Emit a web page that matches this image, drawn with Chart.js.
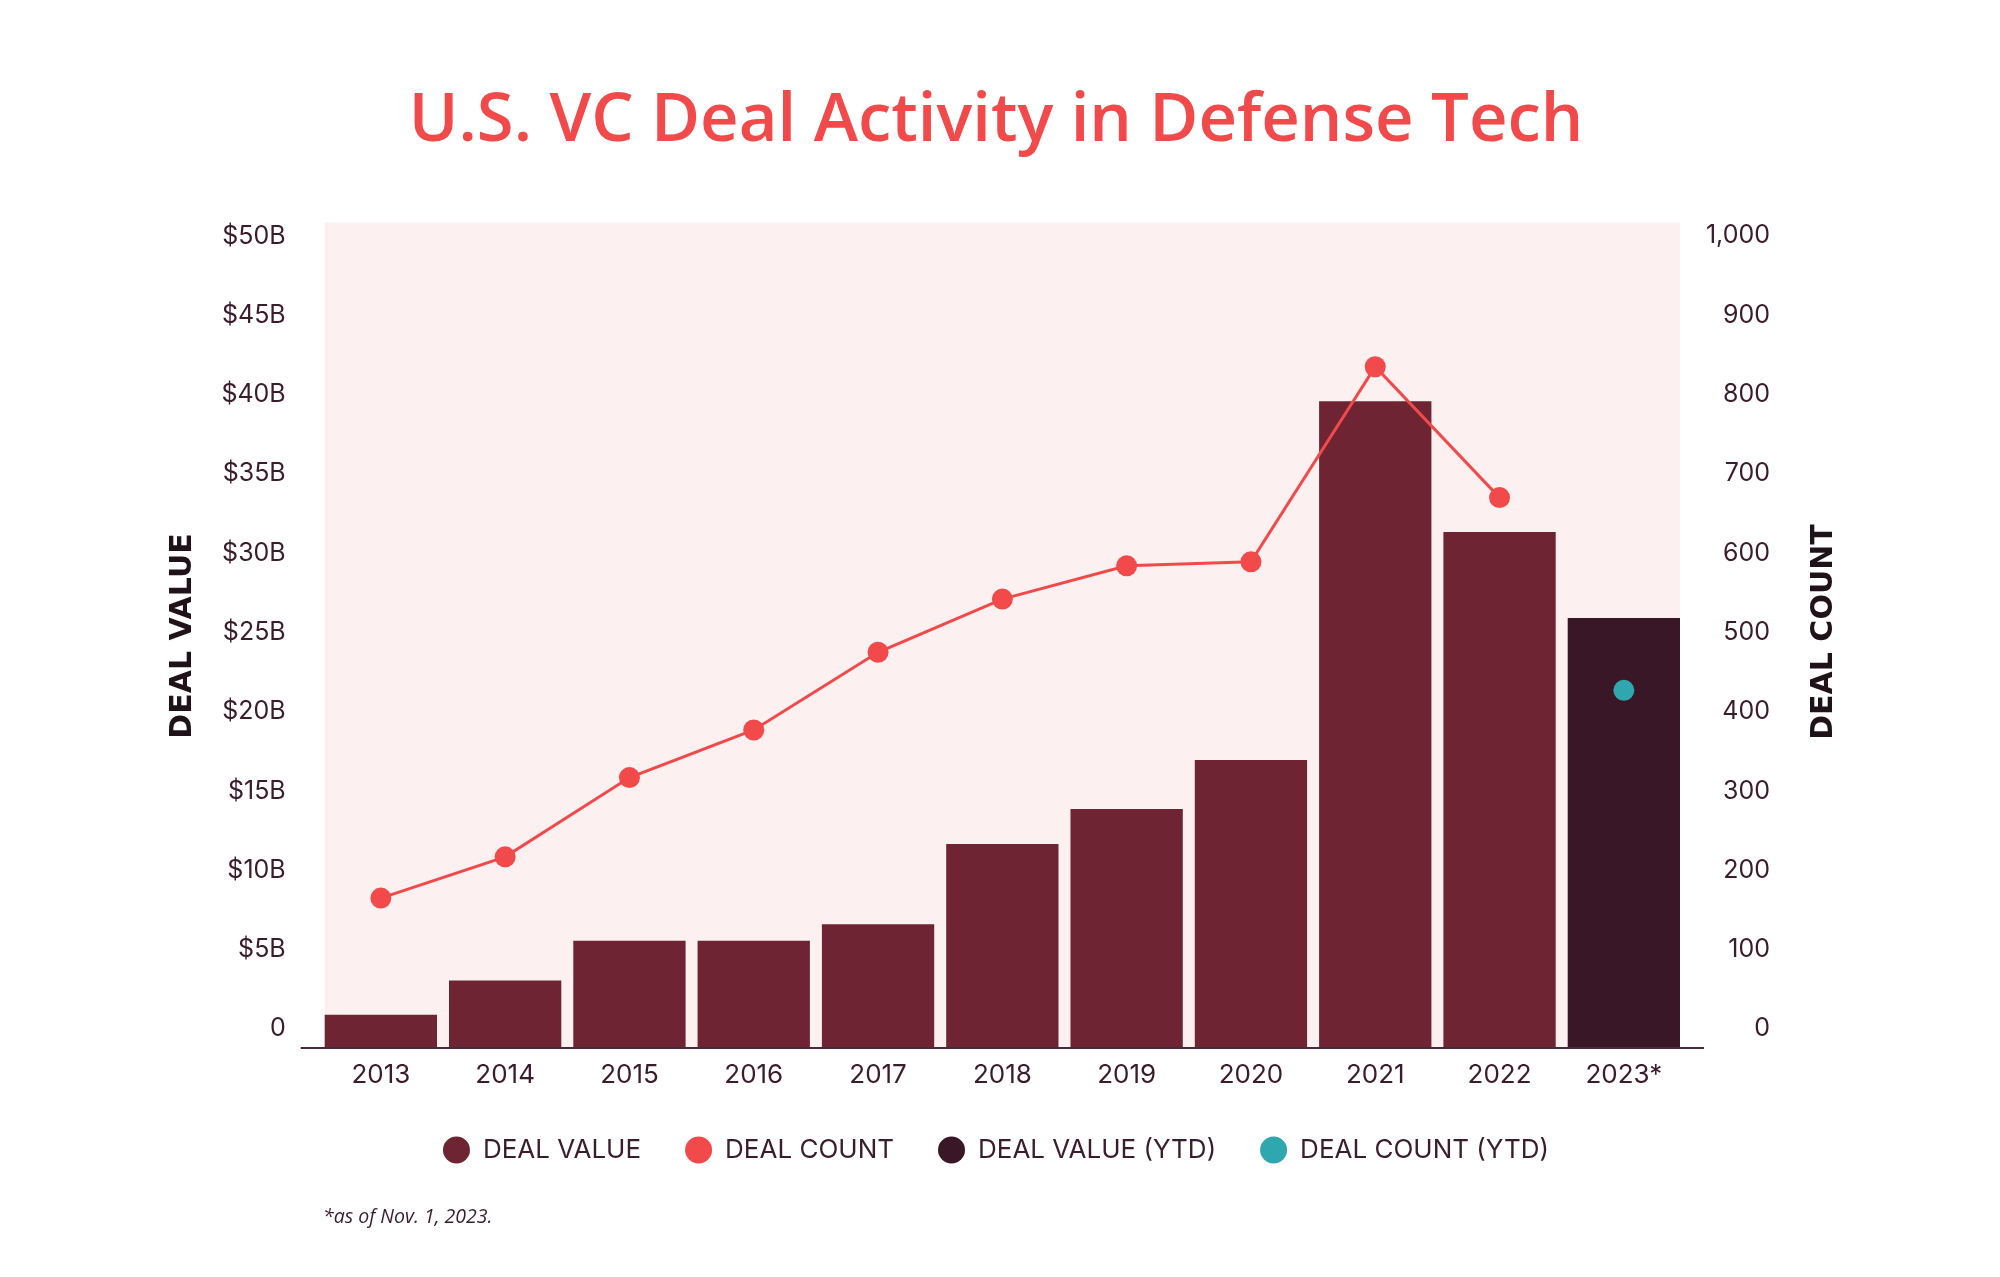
<!DOCTYPE html>
<html>
<head>
<meta charset="utf-8">
<title>U.S. VC Deal Activity in Defense Tech</title>
<script src="https://cdn.jsdelivr.net/npm/chart.js@4.4.1/dist/chart.umd.min.js"></script>
<style>
  html, body { margin: 0; padding: 0; background: #ffffff; }
  #wrap { position: relative; width: 2000px; height: 1277px; }
</style>
</head>
<body>
<div id="wrap"><canvas id="dealChart" width="2000" height="1277"></canvas></div>
<script>
const years = ["2013", "2014", "2015", "2016", "2017", "2018", "2019", "2020", "2021", "2022", "2023*"];
// deal value in $B, deal count in deals
const dealValue = [0.9, 3.05, 5.57, 5.57, 6.6, 11.66, 13.87, 16.96, 39.58, 31.34, null];
const dealCount = [165, 217, 317, 377, 475, 542, 584, 589, 835, 670, null];
const dealValueYtd = [null, null, null, null, null, null, null, null, null, null, 25.91];
const dealCountYtd = [null, null, null, null, null, null, null, null, null, null, 427];

const valueTicks = [0, 5, 10, 15, 20, 25, 30, 35, 40, 45, 50];
const valueTickLabels = ["0", "$5B", "$10B", "$15B", "$20B", "$25B", "$30B", "$35B", "$40B", "$45B", "$50B"];
const countTicks = [0, 100, 200, 300, 400, 500, 600, 700, 800, 900, 1000];
const countTickLabels = ["0", "100", "200", "300", "400", "500", "600", "700", "800", "900", "1,000"];

const valueMin = -1.2;
const valueMax = 50.86;
const countMin = -24;
const countMax = 1017;

const inkColor = "#3b1c2c";
const tickFont = { family: "Inter", size: 25 };

// pink panel behind the bars, spanning exactly the bar columns
const panelPlugin = {
  id: "panel",
  beforeDatasetsDraw(chart) {
    const { ctx, chartArea, scales } = chart;
    const bar = chart.getDatasetMeta(0).data[0];
    const half = bar.width / 2;
    const left = scales.x.getPixelForValue(0) - half;
    const right = scales.x.getPixelForValue(years.length - 1) + half;
    ctx.save();
    ctx.fillStyle = "#fcf0f0";
    ctx.fillRect(left, chartArea.top, right - left, chartArea.bottom - chartArea.top);
    ctx.restore();
  },
};

// baseline, axis titles and footnote
const decorPlugin = {
  id: "decor",
  afterDraw(chart) {
    const { ctx, chartArea } = chart;
    ctx.save();
    ctx.strokeStyle = "#4a2a3a";
    ctx.lineWidth = 2;
    ctx.beginPath();
    ctx.moveTo(chartArea.left - 18, chartArea.bottom);
    ctx.lineTo(chartArea.right + 18, chartArea.bottom);
    ctx.stroke();

    ctx.fillStyle = "#1f1218";
    ctx.font = "bold 30px 'DejaVu Sans'";
    ctx.textAlign = "center";
    ctx.textBaseline = "middle";
    [["DEAL VALUE", 183, 636], ["DEAL COUNT", 1824, 632]].forEach(([t, x, y]) => {
      ctx.save();
      ctx.translate(x, y);
      ctx.rotate(-Math.PI / 2);
      ctx.fillText(t, 0, 0);
      ctx.restore();
    });

    ctx.fillStyle = inkColor;
    ctx.font = "italic 19.5px 'Open Sans'";
    ctx.textAlign = "left";
    ctx.fillText("*as of Nov. 1, 2023.", 323, 1217);
    ctx.restore();
  },
};

const ctx = document.getElementById("dealChart").getContext("2d");
const dealChart = new Chart(ctx, {
  type: "bar",
  data: {
    labels: years,
    datasets: [
      {
        type: "bar",
        label: "DEAL VALUE",
        data: dealValue,
        yAxisID: "y",
        base: valueMin,
        backgroundColor: "#6e2432",
        borderWidth: 0,
        grouped: false,
        barPercentage: 0.9035,
        categoryPercentage: 1,
        order: 2,
      },
      {
        type: "line",
        label: "DEAL COUNT",
        data: dealCount,
        yAxisID: "y1",
        borderColor: "#f24a4b",
        backgroundColor: "#f24a4b",
        borderWidth: 3,
        pointRadius: 10.5,
        pointBorderWidth: 0,
        pointBackgroundColor: "#f24a4b",
        tension: 0,
        order: 1,
      },
      {
        type: "bar",
        label: "DEAL VALUE (YTD)",
        data: dealValueYtd,
        yAxisID: "y",
        base: valueMin,
        backgroundColor: "#3a1726",
        borderWidth: 0,
        grouped: false,
        barPercentage: 0.9035,
        categoryPercentage: 1,
        order: 2,
      },
      {
        type: "line",
        label: "DEAL COUNT (YTD)",
        data: dealCountYtd,
        yAxisID: "y1",
        showLine: false,
        borderColor: "#2ea8ae",
        backgroundColor: "#2ea8ae",
        pointRadius: 10.5,
        pointBorderWidth: 0,
        pointBackgroundColor: "#2ea8ae",
        order: 1,
      },
    ],
  },
  options: {
    responsive: false,
    devicePixelRatio: 1,
    animation: false,
    layout: { padding: { left: 222, right: 230, top: 0, bottom: 104 } },
    plugins: {
      title: {
        display: true,
        text: "U.S. VC Deal Activity in Defense Tech",
        color: "#f24a4b",
        font: { family: "Open Sans", size: 67, weight: "600", lineHeight: 1.2 },
        padding: { top: 82, bottom: 60 },
      },
      legend: {
        display: true,
        position: "bottom",
        labels: {
          usePointStyle: true,
          pointStyle: "circle",
          boxHeight: 19,
          pointStyleWidth: 27,
          padding: 44,
          color: inkColor,
          font: { family: "Inter", size: 26 },
          sort: (a, b) => a.datasetIndex - b.datasetIndex,
        },
      },
      tooltip: { enabled: false },
    },
    scales: {
      x: {
        grid: { display: false, drawTicks: false },
        border: { display: false },
        ticks: { color: inkColor, font: { family: "Inter", size: 26 }, padding: 12 },
        afterFit: (scale) => { scale.height = 45; },
      },
      y: {
        position: "left",
        min: valueMin,
        max: valueMax,
        grid: { display: false, drawTicks: false },
        border: { display: false },
        afterBuildTicks: (scale) => { scale.ticks = valueTicks.map((v) => ({ value: v })); },
        ticks: {
          color: inkColor,
          font: tickFont,
          padding: 33,
          callback: (value, index) => valueTickLabels[index],
        },
        afterFit: (scale) => { scale.width = 96.7; },
      },
      y1: {
        position: "right",
        min: countMin,
        max: countMax,
        grid: { display: false, drawTicks: false },
        border: { display: false },
        afterBuildTicks: (scale) => { scale.ticks = countTicks.map((v) => ({ value: v })); },
        ticks: {
          color: inkColor,
          font: tickFont,
          crossAlign: "far",
          callback: (value, index) => countTickLabels[index],
        },
        afterFit: (scale) => { scale.width = 84; },
      },
    },
  },
  plugins: [panelPlugin, decorPlugin],
});
</script>
</body>
</html>
